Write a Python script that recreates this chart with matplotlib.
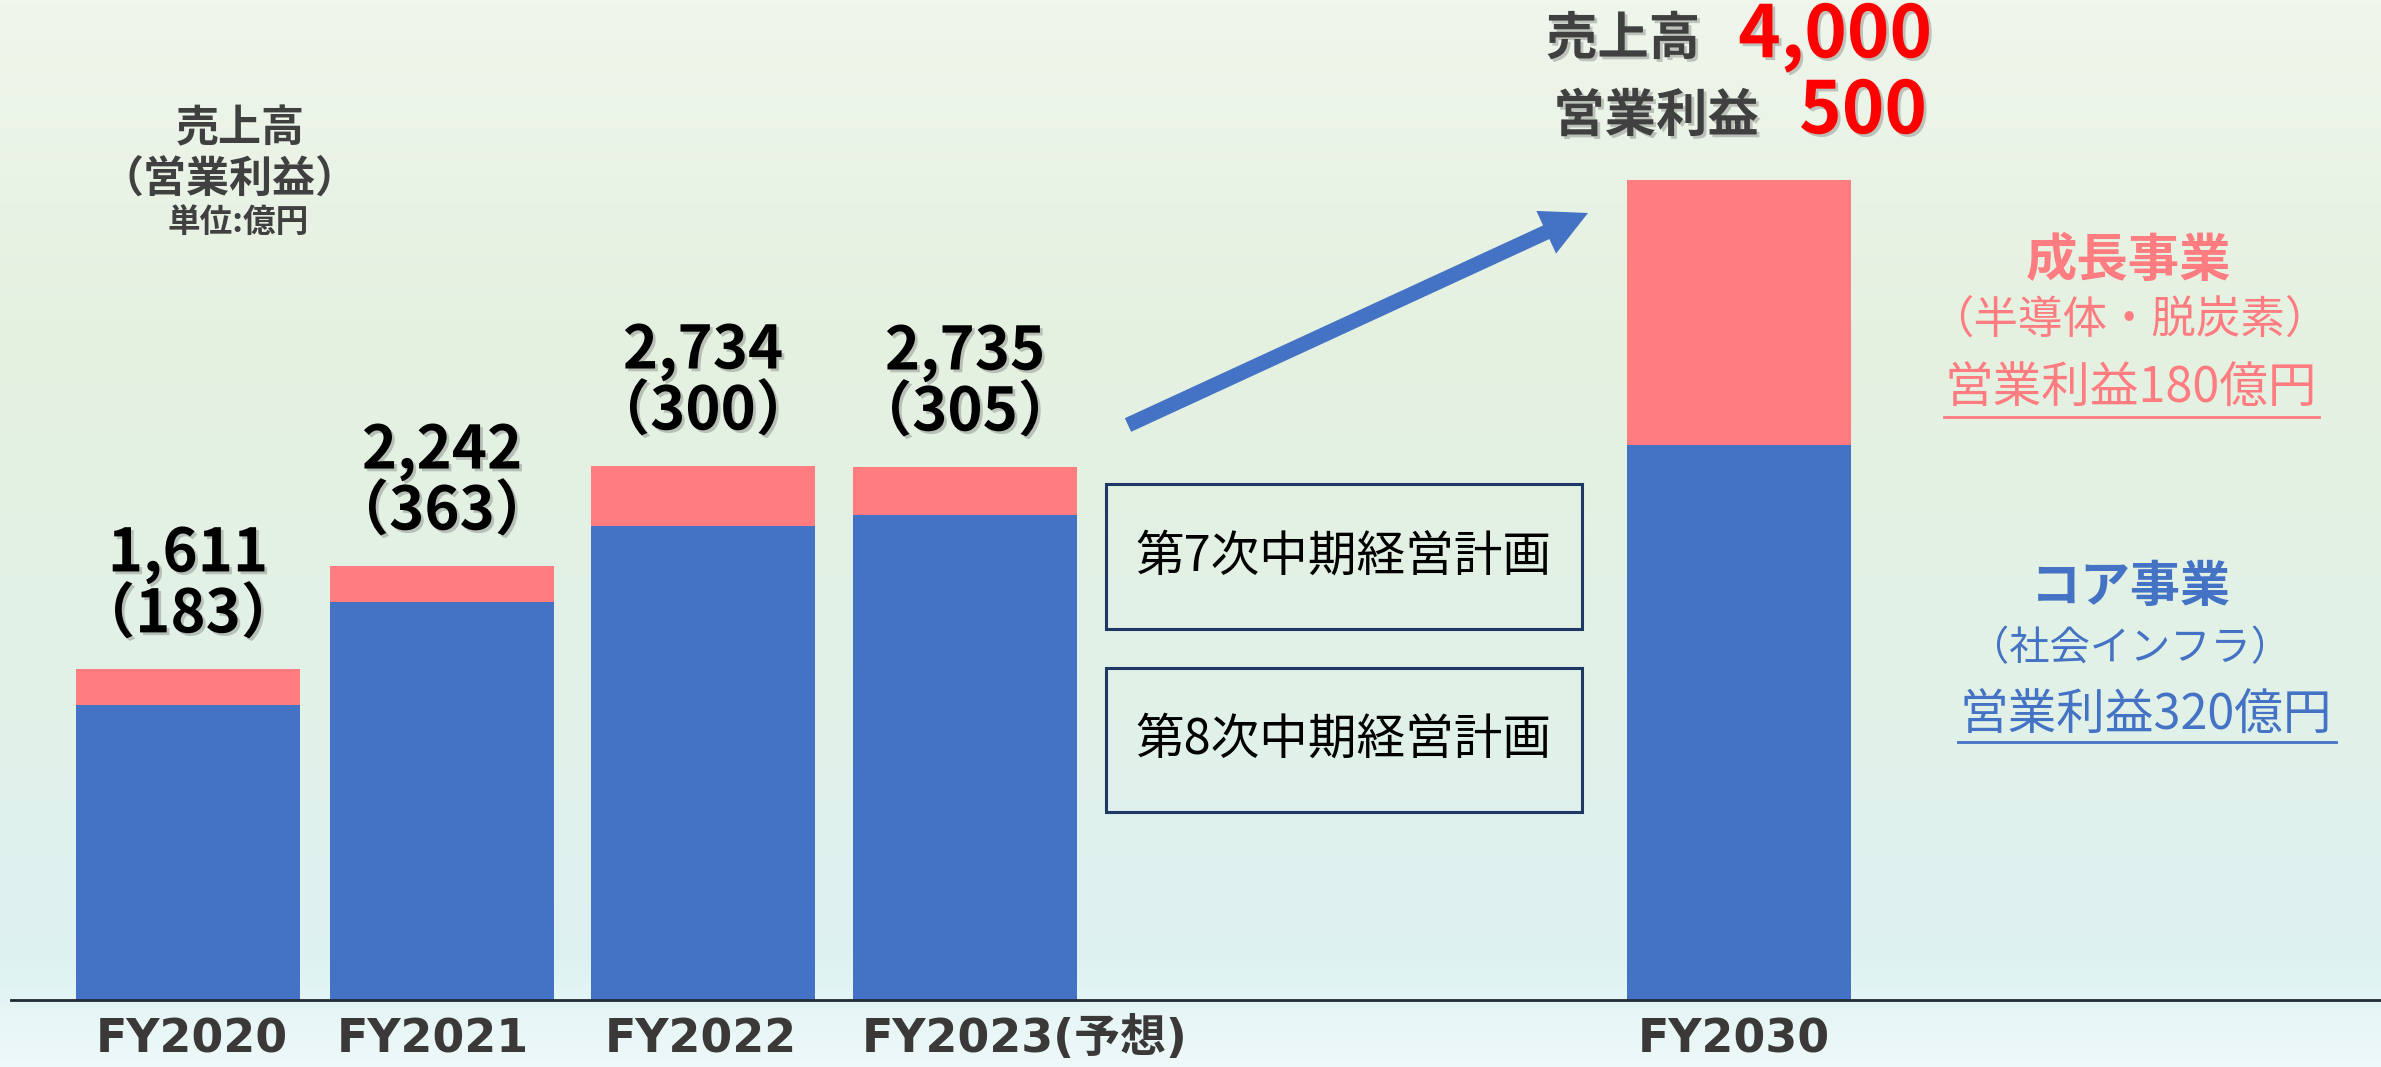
import numpy as np
import matplotlib
matplotlib.use("Agg")
import matplotlib.pyplot as plt
from matplotlib.patches import Rectangle, FancyArrow
import matplotlib.patheffects as pe

plt.rcParams['font.family'] = ['Noto Sans CJK JP', 'DejaVu Sans']

# Daten (Balkenhoehen in 億円)
categories = ['FY2020', 'FY2021', 'FY2022', 'FY2023(予想)', 'FY2030']
core = [1439, 1941, 2312, 2366, 2707]      # コア事業
growth = [176, 176, 293, 234, 1293]        # 成長事業
sales_labels = ['1,611', '2,242', '2,734', '2,735']
profit_labels = ['183', '363', '300', '305']
target_sales = '4,000'
target_profit = '500'

W, H = 2381, 1067
BLUE = '#4472C4'
PINK = '#FF7C80'
DARK = '#3B3838'

xpos = [188, 442, 703, 965, 1739]
bar_w = 224
px_per_unit = 0.205
base_px = 1000

fig = plt.figure(figsize=(W / 100, H / 100), dpi=100)

# Hintergrund mit Farbverlauf
ax_bg = fig.add_axes([0, 0, 1, 1])
stops = [0.0, 0.3, 0.6, 0.9, 1.0]
cols = np.array([[239, 246, 236], [229, 241, 225], [226, 241, 230],
                 [222, 242, 242], [238, 249, 249]]) / 255
t = np.linspace(0, 1, 256)
grad = np.stack([np.interp(t, stops, cols[:, i]) for i in range(3)], axis=1)
ax_bg.imshow(grad[:, None, :], aspect='auto', extent=[0, 1, 0, 1], origin='upper')
ax_bg.axis('off')

# Balken
ax = fig.add_axes([0, 0, 1, 1])
ax.patch.set_alpha(0)
ax.set_xlim(0, W)
ax.set_ylim(-(H - base_px) / px_per_unit, base_px / px_per_unit)
ax.axis('off')

ax.bar(xpos, core, width=bar_w, color=BLUE, zorder=2)
ax.bar(xpos, growth, width=bar_w, bottom=core, color=PINK, zorder=2)
ax.plot([11, W], [0, 0], color='#222a35', lw=2, zorder=3)

shadow = [pe.withSimplePatchShadow(offset=(2, -2), shadow_rgbFace='#666666', alpha=0.35)]

for i in range(len(sales_labels)):
    top = core[i] + growth[i]
    ax.text(xpos[i], top + 84 / px_per_unit, f"{sales_labels[i]}\n（{profit_labels[i]}）",
            ha='center', va='center', fontsize=43, fontweight='bold', color='black',
            linespacing=1.02, path_effects=shadow)

label_x = [192, 433, 701, 1025, 1734]
for i, c in enumerate(categories):
    ax.text(label_x[i], -40 / px_per_unit, c, ha='center', va='center', fontsize=33,
            fontweight='bold', color=DARK, family=['DejaVu Sans', 'Noto Sans CJK JP'])

# Overlay in Pixelkoordinaten
ov = fig.add_axes([0, 0, 1, 1])
ov.patch.set_alpha(0)
ov.set_xlim(0, W)
ov.set_ylim(H, 0)
ov.axis('off')

# Einheit oben links
ov.text(240, 128, '売上高', ha='center', va='center', fontsize=31, fontweight='bold', color='#404040')
ov.text(229, 179, '（営業利益）', ha='center', va='center', fontsize=31, fontweight='bold', color='#404040')
ov.text(238, 222, '単位:億円', ha='center', va='center', fontsize=23.5, fontweight='bold', color='#404040')

# Ziel 2030
ov.text(1623, 39, '売上高', ha='center', va='center', fontsize=37, fontweight='bold',
        color='#404040', path_effects=shadow)
ov.text(1835, 36, target_sales, ha='center', va='center', fontsize=52, fontweight='bold',
        color='#FF0000', path_effects=shadow)
ov.text(1656, 116, '営業利益', ha='center', va='center', fontsize=37, fontweight='bold',
        color='#404040', path_effects=shadow)
ov.text(1863, 112, target_profit, ha='center', va='center', fontsize=52, fontweight='bold',
        color='#FF0000', path_effects=shadow)

# Pfeil
ov.add_patch(FancyArrow(1128, 425, 1588 - 1128, 213 - 425, width=15, head_width=47,
                        head_length=46, length_includes_head=True, color=BLUE, lw=0))

# Kästen mittelfristige Pläne
for y0, y1, txt in [(484, 629, '第7次中期経営計画'), (668, 812, '第8次中期経営計画')]:
    ov.add_patch(Rectangle((1106, y0), 1582 - 1106, y1 - y0, fill=False,
                           edgecolor='#1F3864', lw=2.2))
    ov.text(1343, (y0 + y1) / 2, txt, ha='center', va='center', fontsize=35, color='black')

# Beschriftung rechts
ov.text(2128, 260, '成長事業', ha='center', va='center', fontsize=37, fontweight='bold', color=PINK)
ov.text(2129, 320, '（半導体・脱炭素）', ha='center', va='center', fontsize=32, color=PINK)
ov.text(2131, 389, '営業利益180億円', ha='center', va='center', fontsize=35, color=PINK)
ov.plot([1944, 2319], [417, 417], color=PINK, lw=2)

ov.text(2131, 588, 'コア事業', ha='center', va='center', fontsize=36, fontweight='bold', color=BLUE)
ov.text(2130, 649, '（社会インフラ）', ha='center', va='center', fontsize=29, color=BLUE)
ov.text(2146, 716, '営業利益320億円', ha='center', va='center', fontsize=35, color=BLUE)
ov.plot([1958, 2336], [742, 742], color=BLUE, lw=2)

fig.savefig('out.png', dpi=100)
